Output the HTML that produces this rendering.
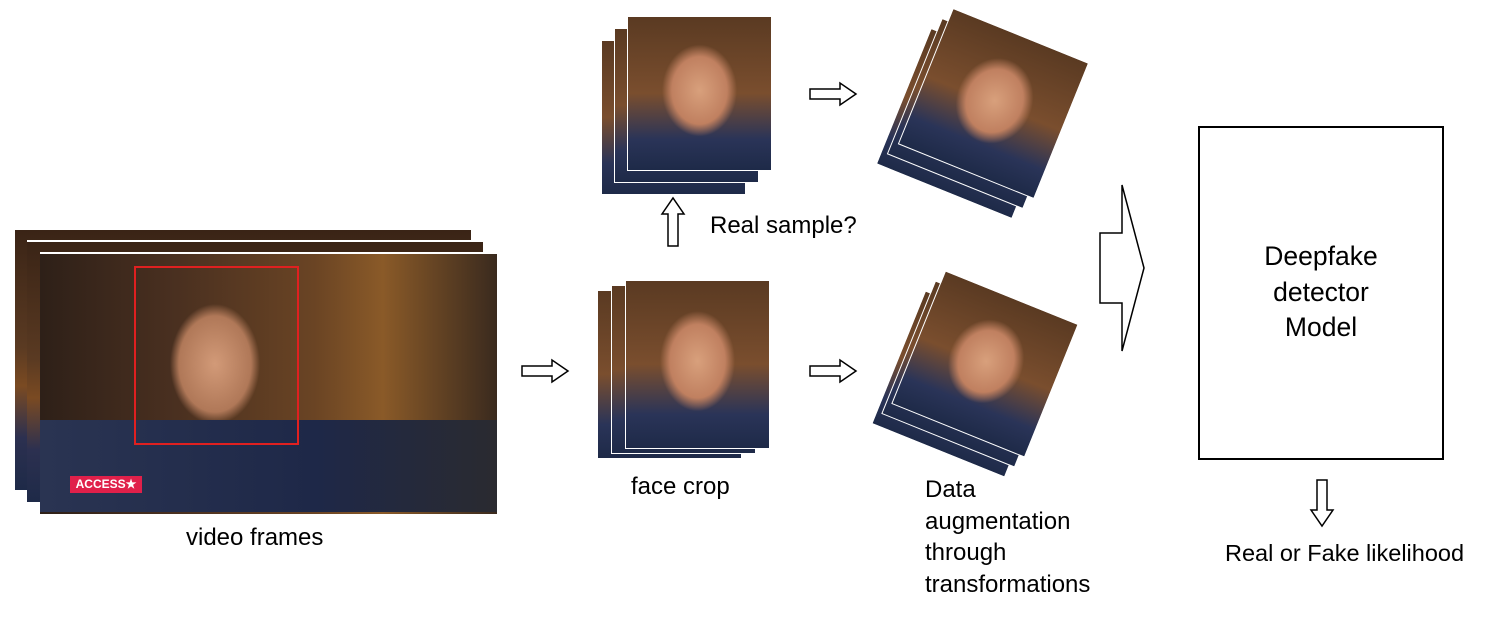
<!DOCTYPE html>
<html><head><meta charset="utf-8"><style>
body{margin:0;width:1492px;height:640px;background:#fff;position:relative;overflow:hidden;font-family:"Liberation Sans",sans-serif;color:#000}
.a{position:absolute}
.frame{position:absolute;background:linear-gradient(180deg,#3a2416 0%,#5a3a22 45%,#7a4a22 60%,#2c3050 80%,#1e2a48 100%);border-top:2px solid #fff}
.face{position:absolute;background:radial-gradient(ellipse 35% 40% at 50% 48%,#d8a07c 0%,#c08060 55%,transparent 75%),linear-gradient(180deg,#5a3a22 0%,#7a4e2e 50%,#2a3458 80%,#1e2a48 100%);border:1px solid #fff}
.t{position:absolute;font-size:24px;white-space:nowrap}
</style></head><body>
<div class="frame" style="left:15px;top:228px;width:456px;height:260px"></div>
<div class="frame" style="left:27px;top:240px;width:456px;height:260px"></div>
<div class="frame" style="left:40px;top:252px;width:457px;height:260px;background:radial-gradient(ellipse 60px 80px at 175px 110px,#d29a78 0%,#b07858 60%,transparent 75%),linear-gradient(90deg,#2e2018 0%,#4a3020 30%,#6a4424 60%,#8a5a28 75%,#3a2a1e 100%)"></div>
<div class="a" style="left:40px;top:420px;width:457px;height:92px;background:linear-gradient(90deg,#2a3452,#1e2848 60%,#2a2a30)"></div>
<div class="a" style="left:70px;top:476px;width:72px;height:17px;background:#e0204a;color:#fff;font-size:12px;font-weight:bold;line-height:17px;text-align:center">ACCESS★</div>
<div class="a" style="left:134px;top:266px;width:161px;height:175px;border:2px solid #e02020"></div>
<div class="t" style="left:186px;top:524px">video frames</div>
<svg class="a" style="left:520px;top:358px" width="52" height="26"><path d="M2 8H32V2L48 13L32 24V18H2Z" fill="#fff" stroke="#000" stroke-width="1.5"/></svg>
<div class="face" style="left:597px;top:290px;width:143px;height:167px"></div>
<div class="face" style="left:611px;top:285px;width:143px;height:167px"></div>
<div class="face" style="left:625px;top:280px;width:143px;height:167px"></div>
<div class="t" style="left:631px;top:473px">face crop</div>
<svg class="a" style="left:660px;top:196px" width="26" height="52"><path d="M8 50V18H2L13 2L24 18H18V50Z" fill="#fff" stroke="#000" stroke-width="1.5"/></svg>
<div class="t" style="left:710px;top:212px">Real sample?</div>
<div class="face" style="left:601px;top:40px;width:143px;height:153px"></div>
<div class="face" style="left:614px;top:28px;width:143px;height:153px"></div>
<div class="face" style="left:627px;top:16px;width:143px;height:153px"></div>
<svg class="a" style="left:808px;top:81px" width="52" height="26"><path d="M2 8H32V2L48 13L32 24V18H2Z" fill="#fff" stroke="#000" stroke-width="1.5"/></svg>
<svg class="a" style="left:808px;top:358px" width="52" height="26"><path d="M2 8H32V2L48 13L32 24V18H2Z" fill="#fff" stroke="#000" stroke-width="1.5"/></svg>
<div class="face" style="left:898px;top:50px;width:145px;height:145px;transform:rotate(22deg)"></div>
<div class="face" style="left:909px;top:40px;width:145px;height:145px;transform:rotate(22deg)"></div>
<div class="face" style="left:920px;top:30px;width:145px;height:145px;transform:rotate(22deg)"></div>
<div class="face" style="left:893px;top:312px;width:142px;height:142px;transform:rotate(22deg)"></div>
<div class="face" style="left:903px;top:302px;width:142px;height:142px;transform:rotate(22deg)"></div>
<div class="face" style="left:913px;top:292px;width:142px;height:142px;transform:rotate(22deg)"></div>
<div class="t" style="left:925px;top:474px;line-height:31.5px">Data<br>augmentation<br>through<br>transformations</div>
<svg class="a" style="left:1098px;top:183px" width="52" height="170"><path d="M2 50H24V2L46 85L24 168V120H2Z" fill="#fff" stroke="#000" stroke-width="1.5"/></svg>
<div class="a" style="left:1198px;top:126px;width:242px;height:330px;border:2px solid #000"></div>
<div class="t" style="left:1198px;top:239px;width:246px;text-align:center;font-size:26.5px;line-height:35.5px;white-space:normal">Deepfake<br>detector<br>Model</div>
<svg class="a" style="left:1309px;top:478px" width="26" height="50"><path d="M8 2V32H2L13 48L24 32H18V2Z" fill="#fff" stroke="#000" stroke-width="1.5"/></svg>
<div class="t" style="left:1225px;top:540px;font-size:23.5px">Real or Fake likelihood</div>
</body></html>
